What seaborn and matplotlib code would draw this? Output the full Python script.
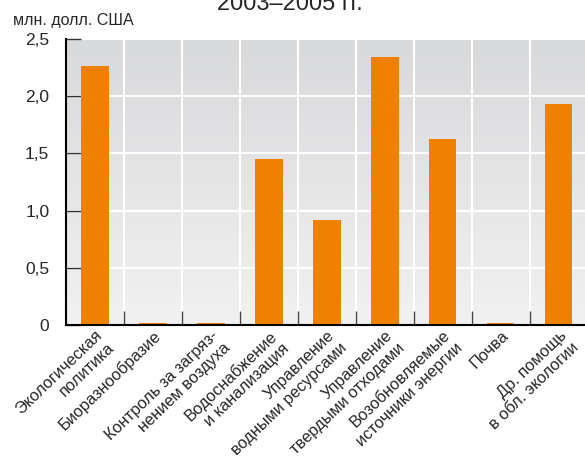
import numpy as np
import pandas as pd
import matplotlib
matplotlib.use("Agg")
import matplotlib.pyplot as plt
import matplotlib.transforms as mtransforms
from matplotlib.colors import LinearSegmentedColormap
import seaborn as sns

# data
categories = ["Экологическая\nполитика", "Биоразнообразие", "Контроль за загряз-\nнением воздуха",
              "Водоснабжение\nи канализация", "Управление\nводными ресурсами",
              "Управление\nтвердыми отходами", "Возобновляемые\nисточники энергии",
              "Почва", "Др. помощь\nв обл. экологии"]
values = [2.26, 0.015, 0.015, 1.455, 0.915, 2.345, 1.63, 0.015, 1.935]
yticks = [0, 0.5, 1.0, 1.5, 2.0, 2.5]
ytick_labels = ["0", "0,5", "1,0", "1,5", "2,0", "2,5"]

sns.set_style("white")
plt.rcParams['font.family'] = ['Liberation Sans', 'DejaVu Sans']

df = pd.DataFrame({"cat": categories, "val": values})

fig = plt.figure(figsize=(5.85, 4.58), dpi=100)
ax = fig.add_axes([0.1128, 0.2904, 0.892, 0.6244])

# gray gradient background
cmap = LinearSegmentedColormap.from_list("bg", ["#f1f1f1", "#d8d9db"])
ax.imshow(np.linspace(0, 1, 256).reshape(-1, 1), extent=[0, 1, 0, 1], transform=ax.transAxes,
          cmap=cmap, aspect="auto", origin="lower", zorder=0)

sns.barplot(data=df, x="cat", y="val", color="#f08000", width=0.47, saturation=1,
            linewidth=0, ax=ax, zorder=2)

ax.set_xlim(-0.5, 8.5)
ax.set_ylim(0, 2.5)
ax.set_yticks(yticks)
ax.set_yticklabels(ytick_labels, fontsize=12.5)
ax.set_xticks(range(len(categories)))
ax.set_xticklabels(categories, rotation=44, ha="right", va="top", rotation_mode="anchor",
                   multialignment="right", fontsize=11.8, linespacing=1.2)
ax.set_xticks(np.arange(0.5, 8.5, 1), minor=True)
ax.set_xlabel("")
ax.set_ylabel("")

# small nudges of tick labels
shift_x = mtransforms.ScaledTranslation(-5 / 100, 0, fig.dpi_scale_trans)
for lab in ax.get_xticklabels():
    lab.set_transform(lab.get_transform() + shift_x)
shift_y = mtransforms.ScaledTranslation(0, -4 / 100, fig.dpi_scale_trans)
for lab in ax.get_yticklabels():
    lab.set_transform(lab.get_transform() + shift_y)

ax.grid(True, axis="y", color="white", linewidth=1.5, zorder=1)
ax.grid(True, axis="x", which="minor", color="white", linewidth=1.5, zorder=1)
ax.grid(False, axis="x", which="major")
ax.set_axisbelow(True)

ax.tick_params(axis="y", direction="in", length=11, width=1, color="#333333", pad=12, left=True)
ax.tick_params(axis="x", which="major", length=0, pad=2)
ax.tick_params(axis="x", which="minor", direction="in", length=10, width=1, color="#444444", bottom=True)

for s in ["top", "right"]:
    ax.spines[s].set_visible(False)
for s in ["left", "bottom"]:
    ax.spines[s].set_color("black")
    ax.spines[s].set_linewidth(1.5)
    ax.spines[s].set_zorder(3)

fig.text(0.022, 1 - 25 / 458, "млн. долл. США", fontsize=11.5, ha="left", va="baseline")
fig.text(0.495, 1 - 10 / 458, "2003–2005 гг.", fontsize=17, ha="center", va="baseline")

fig.savefig("out.png", dpi=100)
